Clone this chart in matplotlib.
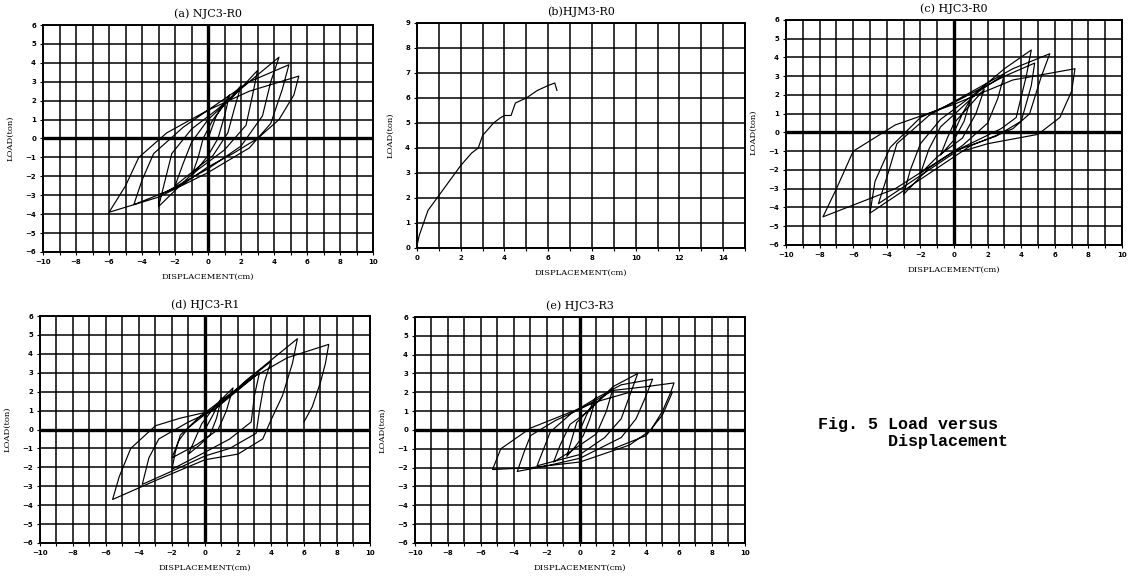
import matplotlib
matplotlib.use("Agg")
import matplotlib.pyplot as plt
import numpy as np

# (a) NJC3-R0 hysteresis trace (cm, ton)
a_x = [0, 0.5, 1.3, 1.0, 0.6, 0.0, -1.0, -0.6, -0.3, 0.3,
       1.0, 2.0, 1.6, 1.2, 0.3, -1.0, -2.0, -1.5, -1.0, 0.0,
       1.5, 3.0, 2.7, 2.3, 1.0, -1.0, -3.0, -2.6, -2.2, -1.0, 0.5,
       2.5, 4.3, 3.8, 3.3, 2.0, 0.0, -2.5, -4.5, -4.0, -3.3, -1.5, 0.5,
       2.5, 4.9, 4.5, 3.8, 2.5, 0.0, -3.0, -6.0, -5.0, -4.2, -2.5, 0.0,
       2.5, 5.5, 5.2, 4.3, 3.0, 1.5, 0.0, -1.5, -3.0, -3.0]
a_y = [0, 1.2, 2.3, 1.2, 0.0, -0.9, -2.0, -1.0, 0.0, 1.0,
       1.8, 2.8, 1.6, 0.3, -0.9, -1.8, -2.5, -1.3, -0.2, 1.0,
       2.2, 3.6, 2.3, 0.7, -0.6, -1.9, -3.6, -2.2, -0.8, 0.5, 1.5,
       3.0, 4.3, 3.0, 1.2, -0.4, -1.6, -2.8, -3.5, -2.2, -0.8, 0.6, 1.8,
       3.0, 3.9, 2.6, 0.8, -0.5, -1.8, -3.1, -3.9, -2.5, -1.0, 0.3, 1.5,
       2.5, 3.3, 2.3, 1.0, 0.0, -0.8, -1.5, -2.4, -3.0, -3.6]

# (b) HJM3-R0 monotonic curve
b_x = [0, 0.1, 0.3, 0.5, 1.0, 1.5, 2.0, 2.5, 2.8, 3.0, 3.5, 3.8, 4.0,
       4.3, 4.5, 5.0, 5.5, 6.0, 6.3, 6.4]
b_y = [0.1, 0.5, 1.0, 1.5, 2.1, 2.7, 3.3, 3.8, 4.0, 4.5, 5.0, 5.2, 5.3,
       5.3, 5.8, 6.0, 6.3, 6.5, 6.6, 6.3]

# (c) HJC3-R0
c_x = [0, 0.5, 1.0, 0.6, 0.0, -0.8, -0.4, 0.0,
       1.0, 1.8, 1.3, 0.5, -1.0, -2.0, -1.5, -0.8, 0.3,
       1.5, 3.0, 2.6, 2.0, 0.5, -1.5, -3.0, -2.6, -2.0, -0.8, 1.0,
       3.0, 4.6, 4.3, 3.7, 2.8, 0.5, -2.0, -4.5, -4.0, -3.4, -1.5, 1.5,
       3.5, 5.7, 5.2, 4.5, 3.5, 1.0, -2.0, -5.0, -4.7, -3.8, -2.0, 0.0,
       3.0, 4.8, 4.6, 4.0, 2.5, 0.0, -3.5, -7.8, -7.0, -6.0, -3.5, 0.0,
       3.5, 7.2, 7.0, 6.3, 5.0, 2.0, 0.5]
c_y = [0, 1.0, 1.8, 0.6, -0.4, -1.2, -0.3, 0.5,
       1.5, 2.3, 1.0, -0.3, -1.3, -2.2, -0.9, 0.3, 1.2,
       2.2, 3.1, 1.8, 0.5, -0.7, -1.9, -3.3, -2.0, -0.6, 0.7, 1.9,
       3.4, 4.4, 3.0, 0.8, 0.2, -0.8, -2.3, -3.8, -2.4, -0.6, 0.9, 2.4,
       3.4, 4.2, 3.0, 1.0, 0.2, -0.7, -2.5, -4.3, -2.6, -0.8, 0.8, 1.6,
       3.0, 3.7, 2.5, 0.6, -0.2, -1.0, -3.0, -4.5, -3.0, -1.0, 0.4, 1.5,
       2.8, 3.4, 2.2, 0.8, -0.1, -0.6, -1.0]

# (d) HJC3-R1
d_x = [0, 0.5, 1.0, 0.7, 0.3, -0.3, -1.0, -0.6, -0.2, 0.4,
       1.0, 1.7, 1.3, 0.8, -0.5, -2.0, -1.6, -1.0, 0.0,
       1.5, 3.3, 3.0, 2.8, 1.5, 0.0, -2.0, -1.8, -1.5, -0.3,
       2.0, 4.0, 3.6, 3.3, 3.1, 1.5, 0.0, -2.0, -3.8, -3.4, -2.8, -1.0, 0.5,
       2.5, 5.6, 5.3, 4.7, 4.0, 3.5, 2.0, 0.0, -3.0, -5.6, -5.2, -4.5, -3.0, -1.5, 0.5,
       3.0, 5.0, 7.5, 7.3, 7.0, 6.5, 6.0]
d_y = [0, 0.8, 1.7, 0.6, -0.3, -0.8, -1.3, -0.5, 0.3, 1.0,
       1.6, 2.2, 1.0, 0.0, -0.8, -1.5, -0.6, 0.1, 0.8,
       1.8, 3.0, 1.8, 0.4, -0.5, -1.2, -2.1, -1.2, -0.3, 0.7,
       2.2, 3.6, 2.5, 1.0, -0.2, -1.0, -1.4, -2.2, -2.9, -1.5, -0.5, 0.4, 1.0,
       2.6, 4.8, 3.5, 1.8, 0.5, -0.5, -1.3, -1.6, -2.7, -3.7, -2.5, -1.0, 0.2, 0.6, 1.0,
       2.8, 3.8, 4.5, 3.5, 2.5, 1.2, 0.4]

# (e) HJC3-R3
e_x = [0, 0.4, 1.0, 0.6, 0.2, -0.3, -0.8, -0.5, -0.2,
       0.8, 2.0, 1.6, 1.0, -0.5, -1.6, -1.2, -0.6, 0.5,
       2.0, 3.5, 3.0, 2.5, 1.5, 0.0, -2.6, -2.2, -1.8, -0.5, 1.0,
       2.5, 4.4, 3.9, 3.4, 2.5, 0.0, -2.0, -3.8, -3.4, -3.0, -1.5, 0.0,
       2.0, 4.0, 5.7, 5.5, 5.0, 4.3, 3.0, 0.0, -3.0, -5.3, -4.8, -3.0, -1.0, 1.0,
       3.0, 5.6, 5.0, 4.0, 2.0]
e_y = [0, 0.8, 1.8, 0.6, -0.3, -0.9, -1.4, -0.5, 0.4,
       1.3, 2.2, 1.0, -0.2, -1.1, -1.7, -0.8, 0.3, 1.0,
       2.3, 3.0, 1.8, 0.6, -0.4, -1.3, -1.9, -1.0, -0.1, 0.9, 1.7,
       2.4, 2.7, 1.6, 0.6, -0.4, -1.5, -1.9, -2.2, -1.2, -0.3, 0.5, 1.1,
       2.1, 2.3, 2.5, 2.0, 1.0, 0.0, -0.8, -1.7, -2.0, -2.1, -1.0, 0.1, 0.8, 1.5,
       2.0, 2.0, 0.8, -0.3, -1.0]

titles = ["(a) NJC3-R0", "(b)HJM3-R0", "(c) HJC3-R0", "(d) HJC3-R1", "(e) HJC3-R3"]

fig = plt.figure(figsize=(11.36, 5.79), dpi=100)

boxes = [
    [0.0379, 0.5648, 0.2905, 0.392],
    [0.3671, 0.5717, 0.2887, 0.3886],
    [0.6919, 0.5769, 0.2958, 0.3886],
    [0.0352, 0.0622, 0.2905, 0.392],
    [0.3653, 0.0622, 0.2905, 0.3903],
]
traces = [(a_x, a_y), (b_x, b_y), (c_x, c_y), (d_x, d_y), (e_x, e_y)]

for i, box in enumerate(boxes):
    ax = fig.add_axes(box)
    xs, ys = traces[i]
    if i == 1:
        ax.set_xlim(0, 15)
        ax.set_ylim(0, 9)
        ax.set_xticks(np.arange(0, 15, 2))
        ax.set_xticks(np.arange(0, 16, 1), minor=True)
        ax.set_yticks(np.arange(0, 10, 1))
    else:
        ax.set_xlim(-10, 10)
        ax.set_ylim(-6, 6)
        ax.set_xticks(np.arange(-10, 11, 2))
        ax.set_xticks(np.arange(-10, 11, 1), minor=True)
        ax.set_yticks(np.arange(-6, 7, 1))
        ax.axhline(0, color="black", lw=2.4, zorder=2)
        ax.axvline(0, color="black", lw=2.4, zorder=2)
    ax.grid(True, which="both", color="black", lw=1.1, zorder=1)
    ax.set_axisbelow(True)
    ax.plot(xs, ys, color="black", lw=0.85, zorder=3)
    for s in ax.spines.values():
        s.set_linewidth(1.4)
    ax.tick_params(which="both", length=2, width=0.8, labelsize=5, pad=3)
    for lab in ax.get_xticklabels() + ax.get_yticklabels():
        lab.set_fontweight("bold")
    ax.set_title(titles[i], fontsize=8, family="serif", pad=6)
    ax.set_xlabel("DISPLACEMENT(cm)", fontsize=6, family="serif", labelpad=6)
    ax.set_ylabel("LOAD(ton)", fontsize=6, family="serif", labelpad=8)

fig.text(0.72, 0.252, "Fig. 5 Load versus\n       Displacement",
         family="Liberation Mono", fontweight="bold", fontsize=12,
         ha="left", va="center", linespacing=1.1)

fig.savefig("out.png", dpi=100)
